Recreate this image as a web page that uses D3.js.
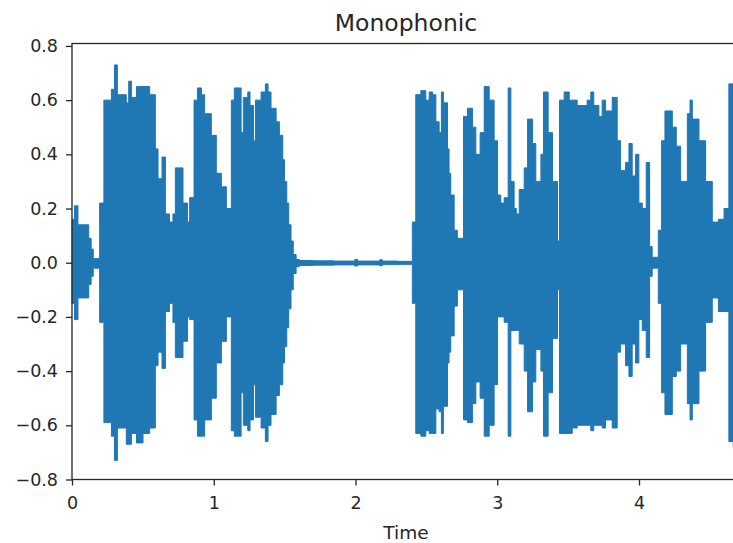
<!DOCTYPE html>
<html>
<head>
<meta charset="utf-8">
<script src="https://cdn.jsdelivr.net/npm/d3@7"></script>
<style>
  html, body { margin: 0; padding: 0; background: #ffffff; overflow: hidden; }
  svg { display: block; font-family: "DejaVu Sans", sans-serif; }
</style>
</head>
<body>
<svg id="chart" width="733" height="543"></svg>
<script>
// Envelope of the monophonic recording: breakpoint times (s) with the
// maximum and minimum amplitude held from each time to the next.
const times = [
  0.000, 0.018, 0.042, 0.118, 0.135, 0.150, 0.195, 0.225, 0.278, 0.300,
  0.320, 0.383, 0.400, 0.419, 0.455, 0.501, 0.548, 0.588, 0.607, 0.635,
  0.659, 0.688, 0.712, 0.729, 0.783, 0.815, 0.830, 0.861, 0.885, 0.913,
  0.936, 0.983, 1.018, 1.054, 1.089, 1.124, 1.145, 1.193, 1.209, 1.240,
  1.256, 1.280, 1.294, 1.334, 1.364, 1.383, 1.404, 1.440, 1.463, 1.487,
  1.499, 1.515, 1.529, 1.545, 1.561, 1.581, 1.604, 1.700, 1.850, 1.995,
  2.015, 2.170, 2.190, 2.300, 2.401, 2.425, 2.461, 2.496, 2.520, 2.543,
  2.567, 2.590, 2.606, 2.620, 2.649, 2.660, 2.672, 2.696, 2.719, 2.762,
  2.790, 2.825, 2.849, 2.879, 2.908, 2.943, 2.978, 3.002, 3.025, 3.049,
  3.077, 3.096, 3.119, 3.135, 3.155, 3.190, 3.214, 3.249, 3.272, 3.308,
  3.326, 3.359, 3.390, 3.425, 3.439, 3.472, 3.508, 3.529, 3.564, 3.634,
  3.660, 3.681, 3.717, 3.740, 3.764, 3.811, 3.846, 3.870, 3.905, 3.929,
  3.952, 3.976, 3.999, 4.023, 4.051, 4.075, 4.093, 4.136, 4.159, 4.183,
  4.235, 4.263, 4.294, 4.341, 4.360, 4.376, 4.423, 4.470, 4.517, 4.560,
  4.600, 4.634, 4.665, 4.720
];
const upper = [
  0.16, 0.21, 0.14, 0.09, 0.05, 0.015, 0.22, 0.60, 0.64, 0.73,
  0.62, 0.59, 0.67, 0.61, 0.65, 0.65, 0.62, 0.42, 0.31, 0.39,
  0.18, 0.15, 0.18, 0.35, 0.22, 0.15, 0.24, 0.60, 0.645, 0.62,
  0.55, 0.47, 0.33, 0.28, 0.20, 0.60, 0.645, 0.48, 0.61, 0.63,
  0.58, 0.45, 0.60, 0.63, 0.66, 0.63, 0.57, 0.52, 0.47, 0.38,
  0.30, 0.22, 0.14, 0.08, 0.03, 0.012, 0.008, 0.007, 0.006, 0.012,
  0.006, 0.011, 0.006, 0.005, 0.15, 0.62, 0.635, 0.60, 0.63, 0.62,
  0.52, 0.48, 0.63, 0.59, 0.42, 0.33, 0.25, 0.12, 0.09, 0.54,
  0.57, 0.50, 0.40, 0.48, 0.65, 0.60, 0.45, 0.25, 0.22, 0.24,
  0.645, 0.30, 0.20, 0.18, 0.27, 0.35, 0.53, 0.44, 0.30, 0.40,
  0.63, 0.48, 0.30, 0.08, 0.60, 0.63, 0.60, 0.60, 0.58, 0.60,
  0.63, 0.58, 0.54, 0.60, 0.56, 0.61, 0.45, 0.34, 0.37, 0.44,
  0.32, 0.40, 0.22, 0.20, 0.37, 0.06, 0.02, 0.12, 0.45, 0.56,
  0.50, 0.43, 0.30, 0.55, 0.60, 0.53, 0.45, 0.30, 0.15, 0.16,
  0.20, 0.66, 0.62, 0.62
];
const lower = [
  -0.15, -0.21, -0.13, -0.08, -0.05, -0.02, -0.22, -0.59, -0.64, -0.73,
  -0.61, -0.67, -0.67, -0.63, -0.665, -0.63, -0.61, -0.38, -0.33, -0.39,
  -0.18, -0.15, -0.22, -0.35, -0.29, -0.20, -0.21, -0.58, -0.64, -0.64,
  -0.58, -0.50, -0.37, -0.29, -0.20, -0.62, -0.64, -0.48, -0.60, -0.62,
  -0.58, -0.45, -0.57, -0.61, -0.66, -0.60, -0.56, -0.49, -0.45, -0.37,
  -0.31, -0.24, -0.17, -0.10, -0.04, -0.015, -0.010, -0.009, -0.008, -0.012,
  -0.008, -0.011, -0.007, -0.006, -0.15, -0.63, -0.64, -0.62, -0.63, -0.63,
  -0.54, -0.55, -0.63, -0.53, -0.37, -0.33, -0.27, -0.16, -0.10, -0.58,
  -0.59, -0.52, -0.44, -0.50, -0.64, -0.60, -0.45, -0.20, -0.20, -0.22,
  -0.64, -0.25, -0.25, -0.25, -0.30, -0.40, -0.55, -0.44, -0.32, -0.40,
  -0.64, -0.48, -0.28, -0.10, -0.63, -0.63, -0.63, -0.61, -0.60, -0.60,
  -0.62, -0.60, -0.60, -0.61, -0.58, -0.61, -0.33, -0.30, -0.38, -0.42,
  -0.30, -0.37, -0.21, -0.25, -0.35, -0.05, -0.02, -0.15, -0.48, -0.56,
  -0.42, -0.40, -0.30, -0.52, -0.58, -0.52, -0.40, -0.22, -0.13, -0.18,
  -0.18, -0.66, -0.68, -0.64
];

const xTicks = [0, 1, 2, 3, 4];
const yTicks = [-0.8, -0.6, -0.4, -0.2, 0.0, 0.2, 0.4, 0.6, 0.8];
const titleText = "Monophonic";
const xLabel = "Time";

const plot = { left: 72, right: 740, top: 43.5, bottom: 479.5 };
const color = "#1f77b4";
const ink = "#262626";

const svg = d3.select("#chart");

const x = d3.scaleLinear().domain([0, 4.7125]).range([plot.left, plot.right]);
const y = d3.scaleLinear().domain([-0.8, 0.809]).range([plot.bottom, plot.top]);

const env = times.map((t, i) => ({ t, hi: upper[i], lo: lower[i] }));

// Waveform envelope
svg.append("path")
  .datum(env)
  .attr("fill", color)
  .attr("stroke", color)
  .attr("stroke-width", 1)
  .attr("stroke-linejoin", "miter")
  .attr("d", d3.area()
    .x(d => x(d.t))
    .y0(d => y(d.lo))
    .y1(d => y(d.hi))
    .curve(d3.curveStepAfter));

// Axes
const fmt = v => (v < 0 ? "\u2212" : "") + Math.abs(v).toFixed(1);

const yAxis = svg.append("g")
  .attr("transform", `translate(${plot.left},0)`)
  .call(d3.axisLeft(y).tickValues(yTicks).tickFormat(fmt).tickSize(6).tickPadding(8));

const xAxis = svg.append("g")
  .attr("transform", `translate(0,${plot.bottom})`)
  .call(d3.axisBottom(x).tickValues(xTicks).tickFormat(d3.format("d")).tickSize(6).tickPadding(11));

[yAxis, xAxis].forEach(g => {
  g.select(".domain").remove();
  g.selectAll(".tick line").attr("stroke", ink).attr("stroke-width", 1.3);
  g.selectAll(".tick text")
    .attr("fill", ink)
    .style("font-family", "'DejaVu Sans', sans-serif")
    .style("font-size", "17.5px");
});

// Frame
svg.append("rect")
  .attr("x", plot.left)
  .attr("y", plot.top)
  .attr("width", plot.right - plot.left)
  .attr("height", plot.bottom - plot.top)
  .attr("fill", "none")
  .attr("stroke", ink)
  .attr("stroke-width", 1.3);

// Title and axis label
svg.append("text")
  .attr("x", (plot.left + plot.right) / 2)
  .attr("y", 31)
  .attr("text-anchor", "middle")
  .attr("fill", ink)
  .style("font-size", "23.5px")
  .text(titleText);

svg.append("text")
  .attr("x", (plot.left + plot.right) / 2)
  .attr("y", 539)
  .attr("text-anchor", "middle")
  .attr("fill", ink)
  .style("font-size", "18.5px")
  .text(xLabel);
</script>
</body>
</html>
